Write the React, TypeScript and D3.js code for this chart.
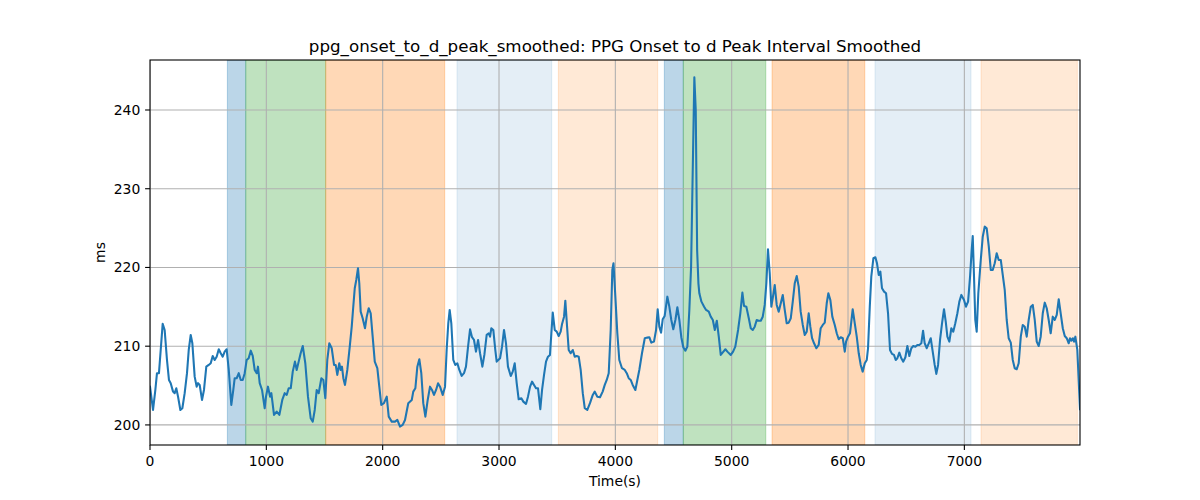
import React from "react";
import * as d3 from "d3";

const timeS = [0,26,46,60,77,92,109,126,146,163,178,198,212,226,241,261,278,298,318,333,350,364,384,401,413,427,447,464,484,505,522,539,556,573,591,608,625,642,659,677,699,716,728,745,763,780,797,814,831,848,866,883,900,917,928,943,963,986,997,1014,1032,1043,1066,1089,1112,1137,1158,1175,1192,1210,1227,1246,1261,1278,1295,1313,1335,1358,1381,1399,1416,1433,1450,1473,1490,1507,1524,1541,1562,1582,1596,1610,1627,1639,1650,1662,1676,1696,1717,1734,1745,1760,1773,1788,1799,1811,1828,1848,1863,1880,1897,1914,1932,1954,1971,1988,2011,2035,2052,2078,2106,2126,2149,2172,2192,2220,2250,2263,2281,2298,2315,2332,2349,2367,2387,2407,2424,2441,2459,2476,2493,2516,2536,2550,2564,2576,2590,2607,2624,2642,2659,2679,2699,2716,2734,2751,2768,2785,2802,2820,2837,2857,2874,2894,2912,2923,2934,2951,2968,2980,3009,3026,3043,3060,3077,3101,3118,3135,3152,3169,3192,3209,3232,3249,3267,3284,3301,3318,3335,3355,3370,3387,3404,3421,3438,3450,3462,3479,3496,3513,3530,3542,3559,3570,3585,3599,3616,3634,3651,3668,3685,3702,3720,3737,3759,3782,3806,3823,3845,3868,3891,3909,3926,3943,3960,3974,3984,4000,4017,4034,4057,4081,4098,4115,4132,4149,4172,4189,4206,4229,4253,4275,4292,4309,4332,4350,4364,4378,4393,4407,4424,4447,4464,4481,4498,4516,4533,4550,4567,4584,4602,4619,4636,4651,4679,4691,4703,4714,4722,4740,4763,4780,4803,4820,4838,4855,4872,4889,4906,4929,4946,4963,4992,5012,5031,5055,5074,5092,5106,5126,5147,5164,5181,5198,5215,5232,5250,5267,5284,5298,5312,5327,5341,5355,5370,5387,5404,5422,5439,5456,5473,5490,5508,5525,5542,5559,5576,5593,5611,5628,5645,5662,5676,5691,5708,5728,5748,5765,5783,5800,5817,5831,5848,5865,5886,5903,5920,5937,5955,5972,5983,6000,6017,6040,6058,6075,6092,6109,6126,6144,6161,6172,6187,6200,6218,6235,6249,6264,6278,6292,6310,6327,6344,6361,6378,6395,6410,6424,6441,6458,6475,6493,6510,6527,6544,6561,6579,6596,6613,6630,6645,6659,6677,6694,6711,6728,6745,6759,6774,6791,6808,6825,6840,6854,6871,6888,6905,6922,6940,6957,6974,6997,7014,7032,7049,7063,7072,7083,7094,7106,7120,7141,7158,7175,7192,7210,7227,7244,7261,7278,7295,7313,7330,7347,7364,7381,7399,7416,7433,7450,7467,7485,7502,7519,7536,7553,7571,7588,7605,7622,7639,7656,7674,7691,7708,7725,7742,7760,7777,7794,7811,7828,7846,7863,7880,7897,7908,7920,7932,7943,7954,7971,7994];

const onsetToDPeakMs = [204.85,201.9,204.44,206.57,206.57,209.52,212.83,212.06,208.25,205.71,205.3,204.23,204.03,204.66,203.59,201.9,202.12,204.03,206.57,209.52,211.43,210.37,206.13,204.86,205.3,205.08,203.17,204.44,207.4,207.62,207.83,208.76,208.25,208.67,209.61,209.1,208.67,209.31,209.61,206.98,202.54,204.44,205.93,205.93,206.57,205.71,205.71,206.57,208.25,208.47,209.43,208.76,206.98,206.57,207.4,205.3,204.44,202.12,203.59,204.86,203.59,204.03,201.27,201.69,201.27,203.17,204.03,203.81,204.66,204.66,206.77,208.04,206.98,208.04,209.1,210.03,207.83,203.59,200.85,200.42,201.9,204.44,204.03,205.93,205.71,203.39,208.25,210.37,209.74,207.62,207.62,206.35,207.83,206.98,207.4,205.93,205.08,206.98,209.94,212.48,214.6,217.36,218.41,219.9,217.99,214.39,213.55,212.28,213.75,214.82,214.18,211.21,208.04,207.2,204.86,202.54,202.76,203.59,201.05,200.42,200.42,200.63,199.78,200.0,200.63,202.76,203.17,204.23,204.66,207.4,208.34,206.57,202.76,201.05,203.17,204.86,204.44,203.81,204.44,205.3,204.86,203.81,204.86,209.52,212.91,214.6,212.91,208.25,207.62,207.83,206.98,206.22,206.57,207.4,209.94,212.15,211.14,210.79,209.31,210.79,209.1,207.4,208.89,211.43,211.64,211.21,212.28,212.06,209.52,208.04,208.47,209.94,212.06,210.37,207.4,206.22,206.77,207.83,205.3,203.26,203.39,202.96,202.67,203.59,204.86,205.5,205.08,204.66,204.66,201.99,204.44,206.35,208.04,208.67,208.89,211.64,214.26,212.06,211.85,211.3,211.85,212.83,213.75,215.78,212.48,209.52,209.1,209.52,208.67,208.76,208.67,206.98,204.03,202.12,201.9,202.76,203.81,204.23,203.59,203.52,204.23,205.08,205.71,206.57,212.06,219.68,220.53,216.29,211.64,208.25,207.2,206.98,206.57,205.93,205.71,205.08,204.44,205.71,206.98,209.1,211.01,211.09,211.14,210.45,210.58,212.06,214.69,212.48,211.72,213.42,213.84,216.29,215.02,213.33,212.15,213.33,214.95,213.33,211.14,209.87,209.43,209.94,214.6,220.1,244.15,240.0,222.22,217.99,216.72,215.66,215.02,214.6,214.39,213.75,213.33,212.06,213.24,211.21,208.89,209.31,209.61,209.31,208.89,209.31,209.94,212.06,214.18,216.8,215.11,215.02,213.55,212.28,212.06,212.48,213.33,213.24,213.24,213.75,215.24,217.99,222.31,219.26,215.02,216.29,217.78,215.24,214.39,215.45,216.51,214.6,212.91,212.99,213.55,215.66,217.99,218.92,217.56,214.39,212.7,211.43,211.85,214.18,212.48,211.01,210.37,209.74,210.16,212.28,212.7,212.99,215.45,216.72,215.87,213.75,212.7,211.64,210.88,211.14,211.01,209.31,210.58,211.21,211.64,214.69,212.91,211.21,209.1,207.62,206.77,207.83,208.25,209.74,215.02,218.83,221.17,221.29,220.53,219.05,219.47,217.36,216.93,216.72,214.18,209.52,209.02,208.89,208.25,208.47,209.18,208.47,208.04,208.6,210.03,208.76,209.74,210.03,209.94,210.16,210.16,210.37,211.97,210.37,209.74,210.37,211.01,209.31,207.62,206.48,207.62,210.79,212.91,214.69,213.12,211.21,210.58,212.28,211.85,212.91,214.18,215.66,216.51,215.87,215.02,215.66,218.83,222.22,224.0,218.83,213.33,211.85,216.72,220.95,223.91,225.18,224.98,222.64,219.68,219.68,220.53,221.8,220.95,220.95,219.05,217.14,213.33,211.01,210.45,208.25,207.2,207.07,207.83,211.21,212.7,212.48,211.21,213.33,215.02,215.24,213.33,210.58,210.03,211.21,214.18,215.53,214.82,213.33,211.64,213.75,213.33,213.97,215.96,214.18,212.28,211.3,211.01,210.37,211.01,210.71,211.01,210.58,211.21,209.52,202.0];

const bandStart = [665, 823, 1510, 2639, 3510, 4421, 4584, 5347, 6232, 7143];
const bandEnd = [823, 1510, 2533, 3453, 4364, 4584, 5293, 6144, 7057, 7971];
const bandColor = ["#1f77b4", "#2ca02c", "#ff7f0e", "#1f77b4", "#ff7f0e", "#1f77b4", "#2ca02c", "#ff7f0e", "#1f77b4", "#ff7f0e"];
const bandAlpha = [0.3, 0.3, 0.3, 0.12, 0.17, 0.3, 0.3, 0.3, 0.12, 0.17];

const xTicks = [0, 1000, 2000, 3000, 4000, 5000, 6000, 7000];
const yTicks = [200, 210, 220, 230, 240];

const titleText = "ppg_onset_to_d_peak_smoothed: PPG Onset to d Peak Interval Smoothed";
const xLabel = "Time(s)";
const yLabel = "ms";

export default function App() {
  const W = 1200, H = 500;
  const left = 150, right = 1080, top = 60, bottom = 445;
  const x = d3.scaleLinear().domain([0, 7994]).range([left, right]);
  const y = d3.scaleLinear().domain([197.45, 246.35]).range([bottom, top]);
  const pts = timeS.map((t, i) => [t, onsetToDPeakMs[i]] as [number, number]);
  const line = d3.line<[number, number]>().x(d => x(d[0])).y(d => y(d[1]));
  const font = "DejaVu Sans, sans-serif";
  return (
    <svg width={W} height={H} style={{ position: "absolute", left: 0, top: 0, background: "#fff" }}>
      <rect x={0} y={0} width={W} height={H} fill="#fff" />
      <defs>
        <clipPath id="plotclip">
          <rect x={left} y={top} width={right - left} height={bottom - top} />
        </clipPath>
      </defs>
      <g clipPath="url(#plotclip)">
        {bandStart.map((s, i) => (
          <rect key={i} x={x(s)} y={top} width={x(bandEnd[i]) - x(s)} height={bottom - top}
            fill={bandColor[i]} fillOpacity={bandAlpha[i]} stroke={bandColor[i]} strokeOpacity={bandAlpha[i]} strokeWidth={1} />
        ))}
        {xTicks.map(t => (
          <line key={"gx" + t} x1={x(t)} x2={x(t)} y1={top} y2={bottom} stroke="#b0b0b0" strokeWidth={1.1} />
        ))}
        {yTicks.map(t => (
          <line key={"gy" + t} x1={left} x2={right} y1={y(t)} y2={y(t)} stroke="#b0b0b0" strokeWidth={1.1} />
        ))}
        <path d={line(pts) || ""} fill="none" stroke="#1f77b4" strokeWidth={2.08} strokeLinejoin="round" strokeLinecap="square" />
      </g>
      <rect x={left} y={top} width={right - left} height={bottom - top} fill="none" stroke="#000" strokeWidth={1.1} />
      {xTicks.map(t => (
        <g key={"tx" + t}>
          <line x1={x(t)} x2={x(t)} y1={bottom} y2={bottom + 4.9} stroke="#000" strokeWidth={1.1} />
          <text x={x(t)} y={bottom + 20.5} textAnchor="middle" fontFamily={font} fontSize={13.9} fill="#000">{t}</text>
        </g>
      ))}
      {yTicks.map(t => (
        <g key={"ty" + t}>
          <line x1={left - 4.9} x2={left} y1={y(t)} y2={y(t)} stroke="#000" strokeWidth={1.1} />
          <text x={left - 9.7} y={y(t) + 5} textAnchor="end" fontFamily={font} fontSize={13.9} fill="#000">{t}</text>
        </g>
      ))}
      <text x={(left + right) / 2} y={486} textAnchor="middle" fontFamily={font} fontSize={13.9} fill="#000">{xLabel}</text>
      <text transform={`translate(105,${(top + bottom) / 2}) rotate(-90)`} textAnchor="middle" fontFamily={font} fontSize={13.9} fill="#000">{yLabel}</text>
      <text x={(left + right) / 2} y={52} textAnchor="middle" fontFamily={font} fontSize={16.7} fill="#000">{titleText}</text>
    </svg>
  );
}
